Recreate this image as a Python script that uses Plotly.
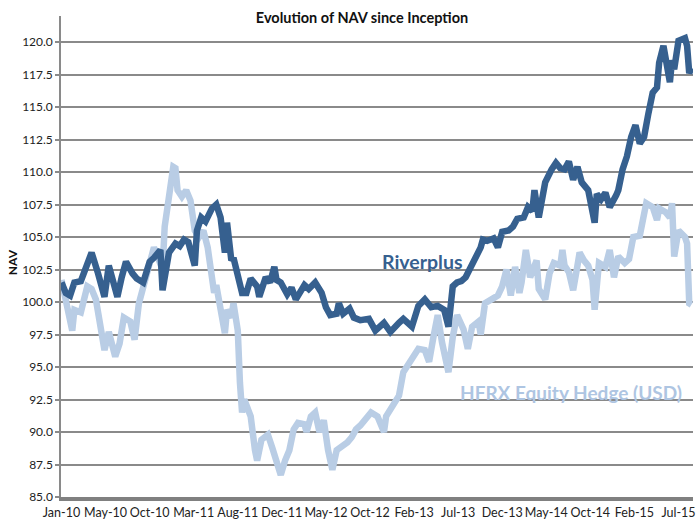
import pandas as pd
import plotly.graph_objects as go

# ---- data (weeks since inception, NAV) ----
inception = "2010-01-01"
tick_labels = ["Jan-10", "May-10", "Oct-10", "Mar-11", "Aug-11", "Dec-11", "May-12",
               "Oct-12", "Feb-13", "Jul-13", "Dec-13", "May-14", "Oct-14", "Feb-15", "Jul-15"]
y_ticks = [85.0, 87.5, 90.0, 92.5, 95.0, 97.5, 100.0, 102.5, 105.0, 107.5, 110.0, 112.5, 115.0, 117.5, 120.0]

riverplus_week = [0, 2, 4, 6, 9, 14, 17, 20, 22, 26, 28, 30, 33, 35, 38, 41, 43, 46, 47, 50, 53, 55, 57, 59,
                  62, 63, 65, 67, 70, 72, 74, 76, 77, 79, 80, 82, 84, 86, 88, 91, 92, 95, 97, 99, 100, 102,
                  105, 107, 109, 113, 115, 118, 121, 123, 125, 128, 129, 131, 134, 136, 139, 143, 146, 150,
                  153, 157, 159, 163, 166, 169, 172, 175, 178, 180, 181, 182, 184, 186, 188, 190, 193, 195,
                  196, 198, 201, 203, 205, 208, 210, 212, 215, 217, 219, 220, 222, 223, 225, 228, 230, 232,
                  234, 236, 238, 240, 242, 245, 246, 248, 249, 251, 253, 254, 255, 258, 259, 261, 263, 265,
                  267, 269, 271, 273, 275, 277, 278, 280, 282, 283, 284, 285, 287, 290, 291, 292, 293]
riverplus_nav = [101.5, 100.7, 100.5, 101.5, 101.6, 103.8, 102.2, 100.4, 102.8, 100.4, 101.9, 103.1, 102.2,
                 101.8, 101.5, 103.1, 103.4, 104.0, 100.9, 103.8, 104.5, 104.3, 104.8, 104.6, 102.8, 105.5,
                 106.5, 106.2, 107.2, 107.5, 106.5, 103.8, 106.1, 103.2, 103.4, 101.9, 100.7, 100.7, 101.8,
                 101.2, 100.4, 101.9, 101.5, 102.7, 101.7, 101.5, 100.6, 101.1, 100.2, 101.3, 101.0, 101.5,
                 100.7, 99.6, 99.0, 99.1, 99.9, 99.1, 99.5, 98.8, 98.6, 98.7, 97.8, 98.4, 97.7, 98.4, 98.7,
                 98.1, 99.7, 100.2, 99.6, 99.7, 99.4, 98.1, 100.4, 101.2, 101.5, 101.6, 101.9, 102.5, 103.5,
                 104.2, 104.8, 104.7, 104.9, 104.2, 105.4, 105.5, 105.8, 106.4, 106.5, 107.3, 107.0, 108.6,
                 106.5, 107.6, 109.2, 110.2, 110.7, 110.3, 110.2, 110.8, 109.4, 110.4, 109.2, 108.6, 107.6,
                 106.1, 108.3, 107.9, 108.4, 107.6, 107.3, 108.2, 108.6, 110.2, 111.2, 112.7, 113.6, 112.2,
                 112.7, 114.5, 116.1, 116.5, 118.4, 119.7, 117.9, 116.9, 118.6, 117.9, 120.1, 120.3, 119.7,
                 117.6, 118.0]

hfrx_week = [0, 3, 5, 6, 9, 12, 14, 16, 19, 20, 22, 25, 27, 29, 32, 34, 36, 39, 41, 43, 47, 48, 50, 52, 53,
             54, 56, 58, 60, 62, 64, 66, 68, 70, 71, 72, 74, 76, 77, 79, 80, 82, 83, 84, 85, 86, 88, 90, 91,
             93, 96, 98, 100, 102, 104, 106, 108, 110, 113, 114, 116, 118, 120, 122, 124, 126, 128, 130, 133,
             135, 137, 139, 141, 144, 147, 150, 151, 154, 157, 159, 163, 166, 169, 171, 173, 175, 177, 180,
             182, 184, 187, 189, 191, 194, 195, 197, 201, 203, 205, 207, 209, 211, 213, 214, 216, 218, 221,
             222, 225, 227, 229, 232, 233, 234, 236, 238, 240, 241, 243, 245, 247, 248, 250, 253, 255, 257,
             259, 262, 264, 266, 269, 270, 272, 275, 277, 278, 281, 283, 284, 285, 287, 290, 291, 292, 293]
hfrx_nav = [101.7, 99.4, 97.8, 99.4, 99.2, 101.2, 101.0, 100.2, 97.3, 96.3, 97.7, 95.8, 96.8, 98.8, 98.5,
            97.1, 99.9, 101.7, 103.0, 104.2, 102.5, 105.8, 108.1, 110.4, 110.3, 108.6, 108.1, 108.6, 107.8,
            105.5, 105.0, 105.5, 104.2, 101.7, 100.7, 101.3, 99.4, 97.6, 99.4, 98.8, 99.9, 97.8, 93.8, 91.5,
            92.5, 92.0, 91.2, 88.6, 87.8, 89.4, 89.8, 88.8, 87.6, 86.7, 87.8, 88.6, 90.2, 90.7, 90.6, 90.0,
            91.2, 91.5, 90.0, 90.9, 88.6, 87.1, 88.6, 88.8, 89.2, 89.6, 90.2, 90.5, 90.9, 91.5, 91.2, 90.0,
            91.2, 91.9, 92.8, 94.6, 95.6, 96.4, 96.3, 95.4, 97.3, 99.0, 96.9, 94.6, 97.3, 99.0, 97.9, 96.4,
            98.1, 98.5, 97.5, 99.9, 100.3, 100.5, 101.2, 102.5, 100.5, 102.7, 100.7, 101.5, 104.0, 101.9,
            103.2, 101.0, 100.2, 102.2, 103.0, 102.8, 104.0, 102.8, 102.3, 100.9, 102.8, 103.8, 103.2, 102.8,
            101.7, 99.4, 103.0, 102.7, 104.0, 101.9, 103.5, 103.0, 103.3, 105.0, 105.1, 106.1, 107.6, 107.3,
            106.3, 107.2, 106.9, 106.5, 107.6, 103.5, 105.5, 105.0, 104.5, 99.9, 99.8]

# ---- figure ----
start = pd.Timestamp(inception)
def to_dates(weeks):
    return [start + pd.Timedelta(days=7 * w) for w in weeks]

label_step_days = 143.5
tick_vals = [start + pd.Timedelta(days=label_step_days * i) for i in range(len(tick_labels))]

DARK = "#36608f"
LIGHT = "#b9cde5"
GRID = "#8a8a8a"
FONT = "Lato, 'Open Sans', sans-serif"

fig = go.Figure()
fig.add_trace(go.Scatter(x=to_dates(hfrx_week), y=hfrx_nav, mode="lines",
                         line=dict(color=LIGHT, width=6.5), name="HFRX Equity Hedge (USD)",
                         hoverinfo="skip"))
fig.add_trace(go.Scatter(x=to_dates(riverplus_week), y=riverplus_nav, mode="lines",
                         line=dict(color=DARK, width=6.5), name="Riverplus",
                         hoverinfo="skip"))

fig.update_layout(
    width=696, height=520,
    margin=dict(l=61, r=0, t=16, b=23),
    paper_bgcolor="white", plot_bgcolor="white",
    showlegend=False,
    font=dict(family=FONT, size=12, color="#333333"),
    title=dict(text="<b>Evolution of NAV since Inception</b>", x=362 / 696, xref="container",
               xanchor="center", y=1 - 18 / 520, yref="container", yanchor="middle",
               font=dict(size=14.5, color="#111111", family=FONT)),
)
fig.update_xaxes(
    range=[start + pd.Timedelta(days=-0.23 * 7), start + pd.Timedelta(days=293.75 * 7)],
    tickmode="array", tickvals=tick_vals, ticktext=tick_labels,
    showgrid=False, showline=True, linecolor="#808080", linewidth=4,
    ticks="", tickfont=dict(size=12.5, color="#222222"), tickangle=0,
    ticklabelstandoff=1, ticklabeloverflow="allow",
)
fig.update_yaxes(
    range=[85, 122], tickmode="array", tickvals=y_ticks,
    tickformat=".1f", showgrid=True, gridcolor=GRID, gridwidth=1.5,
    showline=True, linecolor=GRID, linewidth=1.5,
    ticks="outside", ticklen=4, tickcolor=GRID, tickwidth=1.5,
    tickfont=dict(size=12, color="#222222"), zeroline=False,
)

fig.add_annotation(text="<b>NAV</b>", xref="paper", yref="paper", xanchor="center", yanchor="middle",
                   x=(12 - 61) / 635, y=(497 - 262) / 481, textangle=-90, showarrow=False,
                   font=dict(size=12, color="#111111", family=FONT))
fig.add_annotation(text="<b>Riverplus</b>", xref="paper", yref="paper", xanchor="center", yanchor="middle",
                   x=(424 - 61) / 635, y=(497 - 261) / 481, showarrow=False,
                   font=dict(size=19.5, color=DARK, family=FONT))
fig.add_annotation(text="<b>HFRX Equity Hedge (USD)</b>", xref="paper", yref="paper",
                   xanchor="center", yanchor="middle",
                   x=(573 - 61) / 635, y=(497 - 392) / 481, showarrow=False,
                   font=dict(size=19, color="#aec5e2", family=FONT))

fig.write_html("out.html", config={"displayModeBar": False},
               post_script="document.body.style.margin='0';")
